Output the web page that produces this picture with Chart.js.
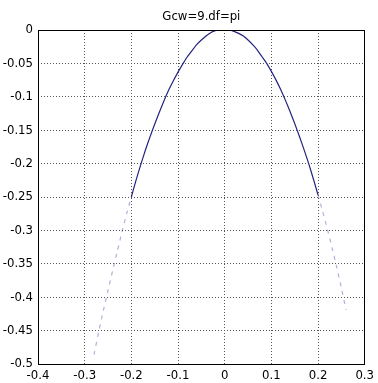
<!DOCTYPE html>
<html>
<head>
<meta charset="utf-8">
<script src="https://cdn.jsdelivr.net/npm/chart.js@4.4.1/dist/chart.umd.min.js"></script>
<style>
  html, body { margin: 0; padding: 0; background: #fff; }
  #wrap { width: 378px; height: 383px; }
</style>
</head>
<body>
<div id="wrap"><canvas id="plot"></canvas></div>
<script>
var chartTitle = 'Gcw=9.df=pi';

// curve samples
var xValues = [-0.28, -0.27, -0.26, -0.25, -0.24, -0.23, -0.22, -0.21, -0.20, -0.19,
               -0.18, -0.17, -0.16, -0.15, -0.14, -0.13, -0.12, -0.11, -0.10, -0.09,
               -0.08, -0.07, -0.06, -0.05, -0.04, -0.03, -0.02, -0.01, 0.00, 0.01,
               0.02, 0.03, 0.04, 0.05, 0.06, 0.07, 0.08, 0.09, 0.10, 0.11,
               0.12, 0.13, 0.14, 0.15, 0.16, 0.17, 0.18, 0.19, 0.20, 0.21,
               0.22, 0.23, 0.24, 0.25, 0.26];
var yValues = [-0.486, -0.452, -0.420, -0.390, -0.360, -0.331, -0.302, -0.275, -0.250, -0.225,
               -0.202, -0.180, -0.160, -0.141, -0.123, -0.106, -0.090, -0.076, -0.063, -0.051,
               -0.040, -0.031, -0.022, -0.015, -0.009, -0.004, -0.001, 0.000, 0.000, 0.000,
               -0.002, -0.005, -0.009, -0.015, -0.022, -0.030, -0.040, -0.050, -0.062, -0.075,
               -0.089, -0.105, -0.122, -0.140, -0.159, -0.179, -0.200, -0.223, -0.247, -0.272,
               -0.298, -0.326, -0.355, -0.386, -0.419];

var xTicks = [-0.4, -0.3, -0.2, -0.1, 0, 0.1, 0.2, 0.3];
var yTicks = [-0.5, -0.45, -0.4, -0.35, -0.3, -0.25, -0.2, -0.15, -0.1, -0.05, 0];

var points = xValues.map(function (x, i) { return { x: x, y: yValues[i] }; });

var fontFamily = '"Liberation Sans Narrow", "DejaVu Sans Condensed", "Liberation Sans", Arial, sans-serif';
var lineColor = '#24247e';
var fadeColor = 'rgba(60, 60, 150, 0.4)';

function isLow(ctx) {
  return ctx.p0.parsed.y < -0.27 || ctx.p1.parsed.y < -0.27;
}

var frame = {
  id: 'frame',
  afterDraw: function (chart) {
    var a = chart.chartArea, c = chart.ctx;
    c.save();
    c.strokeStyle = '#000';
    c.lineWidth = 1;
    c.strokeRect(Math.round(a.left) + 0.5, Math.round(a.top) + 0.5,
                 Math.round(a.right - a.left) - 1, Math.round(a.bottom - a.top));
    c.restore();
  }
};

Chart.defaults.font.family = fontFamily;
Chart.defaults.color = '#000';

new Chart(document.getElementById('plot').getContext('2d'), {
  type: 'line',
  data: {
    datasets: [{
      data: points,
      borderColor: lineColor,
      borderWidth: 1.2,
      pointRadius: 0,
      tension: 0.2,
      fill: false,
      segment: {
        borderColor: function (ctx) { return isLow(ctx) ? fadeColor : undefined; },
        borderDash: function (ctx) { return isLow(ctx) ? [4, 5] : undefined; }
      }
    }]
  },
  options: {
    responsive: true,
    maintainAspectRatio: false,
    animation: false,
    layout: { padding: { left: 0, right: 9, top: 0, bottom: 0 } },
    plugins: {
      legend: { display: false },
      tooltip: { enabled: false },
      title: {
        display: true,
        text: chartTitle,
        fullSize: false,
        color: '#000',
        font: { size: 13, weight: 'normal', lineHeight: 1 },
        padding: { top: 10, bottom: 7 }
      }
    },
    scales: {
      x: {
        type: 'linear',
        min: -0.4,
        max: 0.3,
        afterBuildTicks: function (s) { s.ticks = xTicks.map(function (v) { return { value: v }; }); },
        afterFit: function (s) { s.height = 19; },
        grid: { color: '#555', lineWidth: 1, drawTicks: false },
        border: { display: false, dash: [1, 2] },
        ticks: {
          autoSkip: false,
          maxRotation: 0,
          padding: 4,
          font: { size: 13 },
          callback: function (v) { return String(Number(v.toFixed(2))); }
        }
      },
      y: {
        type: 'linear',
        min: -0.5,
        max: 0,
        afterBuildTicks: function (s) { s.ticks = yTicks.map(function (v) { return { value: v }; }); },
        afterFit: function (s) { s.width = 38; },
        grid: { color: '#555', lineWidth: 1, drawTicks: false },
        border: { display: false, dash: [1, 2] },
        ticks: {
          autoSkip: false,
          padding: 5,
          font: { size: 13 },
          callback: function (v) { return String(Number(v.toFixed(2))); }
        }
      }
    }
  },
  plugins: [frame]
});
</script>
</body>
</html>
